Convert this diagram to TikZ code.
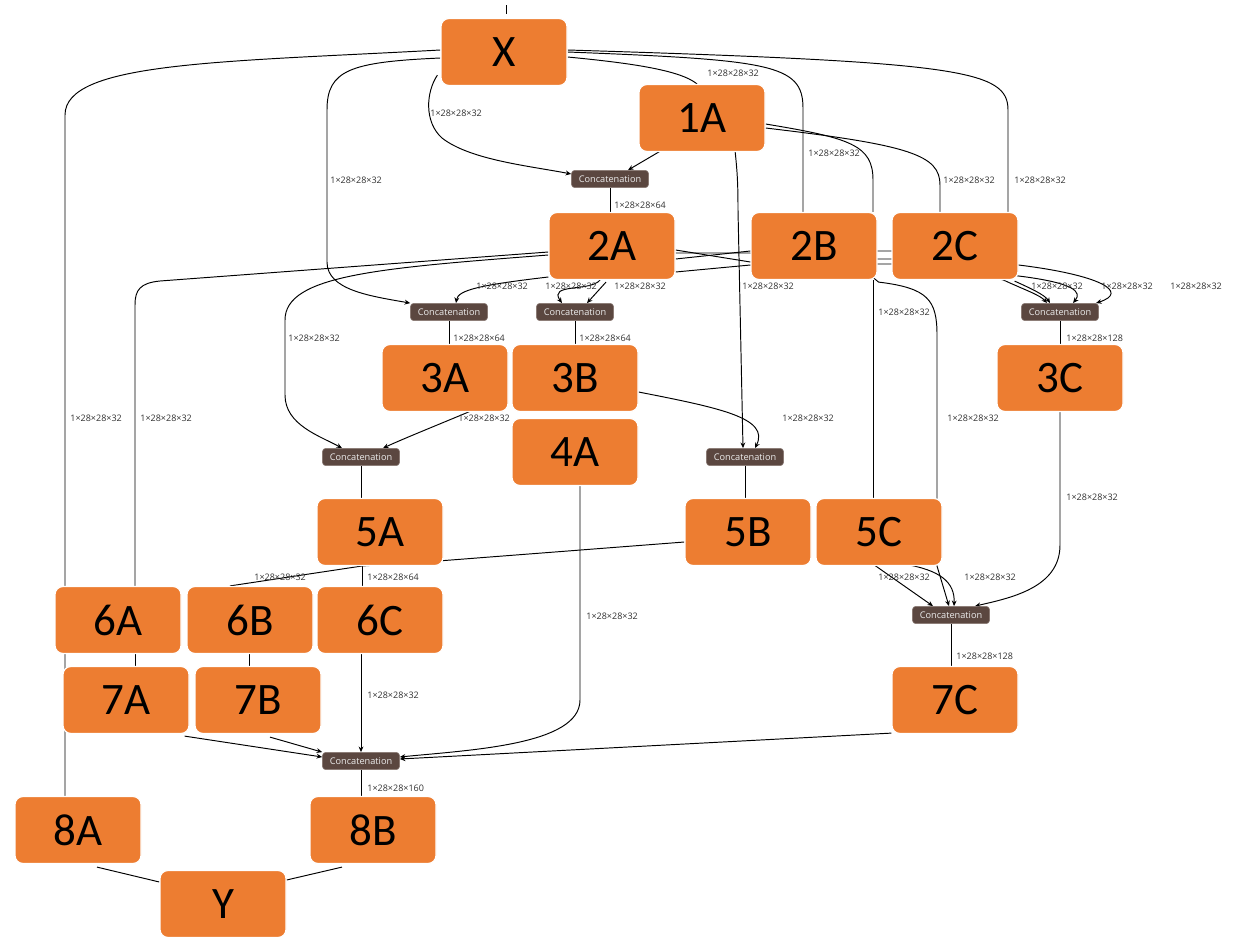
\documentclass[tikz,border=0pt]{standalone}
\usepackage{fontspec}
\usetikzlibrary{calc,arrows.meta}
\newfontfamily\boxfamily{Carlito}
\newfontfamily\uifamily{Open Sans}
\definecolor{boxorange}{HTML}{ED7D31}
\definecolor{catbrown}{HTML}{5B4740}
\definecolor{catedge}{HTML}{8A7A74}
\definecolor{lbltext}{HTML}{333333}
\pgfdeclarelayer{bg}
\pgfdeclarelayer{edges}
\pgfsetlayers{bg,edges,main}

\begin{document}
\begin{tikzpicture}[x=0.5pt,y=-0.5pt,
  opbox/.style={rectangle, rounded corners=4pt, fill=boxorange, draw=white, line width=0.6pt,
    minimum width=63pt, minimum height=33.5pt, inner sep=0pt,
    font=\boxfamily\fontsize{22.5}{27}\selectfont},
  cat/.style={rectangle, rounded corners=1.6pt, fill=catbrown, draw=catedge, line width=0.3pt,
    minimum width=38.5pt, minimum height=8.6pt, inner sep=0pt, text=white!92!black,
    font=\uifamily\fontsize{4.6}{5}\selectfont},
  dimlbl/.style={font=\uifamily\fontsize{4.5}{5}\selectfont, text=lbltext, anchor=west, inner sep=0pt},
  wire/.style={draw=black, line width=0.48pt},
  flow/.style={wire, -{Stealth[length=2.8pt,width=2.4pt]}},
]
\begin{pgfonlayer}{bg}
  \fill[white] (0,0) rectangle (1237,937);
\end{pgfonlayer}
\useasboundingbox (0,0) rectangle (1237,937);

% operator blocks
\node[opbox] (nX)  at (504,52)  {X};
\node[opbox] (n1A) at (702,118) {1A};
\node[opbox] (n2A) at (612,246) {2A};
\node[opbox] (n2B) at (814,246) {2B};
\node[opbox] (n2C) at (955,246) {2C};
\node[opbox] (n3A) at (445,378) {3A};
\node[opbox] (n3B) at (575,378) {3B};
\node[opbox] (n3C) at (1060,378) {3C};
\node[opbox] (n4A) at (575,452) {4A};
\node[opbox] (n5A) at (380,532) {5A};
\node[opbox] (n5B) at (748,532) {5B};
\node[opbox] (n5C) at (879,532) {5C};
\node[opbox] (n6A) at (118,620) {6A};
\node[opbox] (n6B) at (250,620) {6B};
\node[opbox] (n6C) at (380,620) {6C};
\node[opbox] (n7A) at (126,700) {7A};
\node[opbox] (n7B) at (258,700) {7B};
\node[opbox] (n7C) at (955,700) {7C};
\node[opbox] (n8A) at (78,830)  {8A};
\node[opbox] (n8B) at (373,830) {8B};
\node[opbox] (nY)  at (223,904) {Y};

% concatenation ops
\node[cat] (c1) at (610,179)  {Concatenation};
\node[cat] (c2) at (449,312)  {Concatenation};
\node[cat] (c3) at (575,312)  {Concatenation};
\node[cat] (c4) at (1060,312) {Concatenation};
\node[cat] (c5) at (361,457)  {Concatenation};
\node[cat] (c6) at (745,457)  {Concatenation};
\node[cat] (c7) at (951,615)  {Concatenation};
\node[cat] (c8) at (361,761)  {Concatenation};

\coordinate (xin) at (506,5);

\begin{pgfonlayer}{edges}
% graph input
\draw[wire] (xin) -- ($(nX.north)+(2,-4)$);

% outputs of X
\draw[wire] ($(nX.west)+(0,-2)$) .. controls (220,62) and (65,62) .. (65,115) -- ($(n8A.north)+(-13,0)$);
\draw[flow] ($(nX.west)+(0,6)$) .. controls (350,62) and (327,70) .. (327,110) -- (327,262)
  .. controls (327,290) and (370,296) .. (c2.north west);
\draw[flow] ($(nX.south west)+(-3,-11)$) .. controls (426,92) and (424,122) .. (442,138)
  .. controls (470,160) and (530,166) .. ($(c1.west)+(0,-5)$);
\draw[wire] ($(nX.east)+(0,5)$) .. controls (630,63) and (680,70) .. ($(n1A.north)+(-5,0)$);
\draw[wire] ($(nX.east)+(0,0)$) .. controls (770,60) and (803,64) .. (803,108) -- ($(n2B.north)+(-11,0)$);
\draw[wire] ($(nX.east)+(0,-2)$) .. controls (960,62) and (1008,70) .. (1008,110) -- ($(n2C.north)+(53,0)$);

% outputs of 1A
\draw[flow] ($(n1A.south)+(-40,-2)$) -- ($(c1.north)+(18,0)$);
\draw[flow] ($(n1A.south)+(33,-2)$) .. controls (737,170) and (738,180) .. (738,210) -- ($(c6.north)+(-2,0)$);
\draw[wire] ($(n1A.east)+(0,6)$) .. controls (850,138) and (873,145) .. (873,180) -- ($(n2B.north)+(59,0)$);
\draw[wire] ($(n1A.east)+(0,10)$) .. controls (910,145) and (940,155) .. (940,185) -- ($(n2C.north)+(-15,0)$);

\draw[wire] (c1.south) -- (c1.south |- n2A.north);

% outputs of 2A
\draw[wire] ($(n2A.west)+(0,6)$) -- (160,281) .. controls (140,283) and (135,290) .. (135,305) -- ($(n6A.north)+(17,0)$);
\draw[flow] ($(n2A.west)+(0,9)$) .. controls (380,268) and (285,275) .. (285,320) -- (285,395)
  .. controls (285,425) and (320,436) .. ($(c5.north)+(-19,0)$);
\draw[flow] ($(n2A.west)+(0,31)$) .. controls (480,285) and (458,290) .. ($(c2.north)+(7,0)$);
\draw[flow] ($(n2A.south)+(-6,2)$) -- ($(c3.north)+(12,0)$);
\draw[flow] ($(n2A.south)+(-12,0)$) .. controls (590,292) and (548,283) .. ($(c3.north)+(-13,0)$);
\draw[flow] ($(n2A.east)+(0,4)$) -- ($(n2B.west)+(0,16)$) -- (870,264) -- (900,264) -- ($(n2C.east)+(0,30)$)
  .. controls (1075,283) and (1082,292) .. ($(c4.north)+(13,0)$);
\draw[flow] ($(n2A.east)+(0,7)$) -- ($(n2B.west)+(0,7)$) -- (870,259) -- (900,259) -- ($(n2C.east)+(0,19)$)
  .. controls (1100,275) and (1130,292) .. ($(c4.north)+(36,0)$);
\draw[flow] ($(n2A.east)+(0,13)$) -- ($(n2B.west)+(0,5)$) -- (870,251) -- (900,251) -- ($(n2C.south east)+(-15,0)$)
  .. controls (1025,290) and (1040,295) .. ($(c4.north)+(-13,0)$);
\draw[flow] ($(n2A.east)+(0,26)$) -- ($(n2B.west)+(0,19)$) -- (870,275) -- ($(n2B.south east)+(1,2)$)
  .. controls (928,288) and (937,300) .. (937,335) -- (937,566) -- ($(c7.north)+(-2,0)$);

% output of 2C
\draw[flow] ($(n2C.south east)+(-4,1)$) .. controls (1030,288) and (1045,295) .. ($(c4.north)+(-10,0)$);

% output of 2B
\draw[wire] ($(n2B.south)+(59,0)$) -- ($(n5C.north)+(-6,0)$);

% concatenations into third row
\draw[wire] (c2.south) -- (c2.south |- n3A.north);
\draw[wire] (c3.south) -- (c3.south |- n3B.north);
\draw[wire] (c4.south) -- (c4.south |- n3C.north);

\draw[flow] ($(n3A.south)+(28,-2)$) .. controls (440,424) and (405,438) .. ($(c5.north)+(22,0)$);
\draw[flow] ($(n3B.east)+(0,14)$) .. controls (720,408) and (770,418) .. ($(c6.north)+(10,0)$);
\draw[flow] (n3C.south) -- (1060,545) .. controls (1060,588) and (1010,598) .. ($(c7.north)+(24,0)$);

\draw[wire] (c5.south) -- (c5.south |- n5A.north);
\draw[wire] (c6.south) -- (c6.south |- n5B.north);

% output of 4A
\draw[flow] ($(n4A.south)+(5,0)$) -- (580,700) .. controls (580,745) and (470,750) .. ($(c8.east)+(0,-4)$);

% fifth row outputs
\draw[wire] ($(n5A.south)+(-18,0)$) -- ($(n6C.north)+(-18,0)$);
\draw[wire] ($(n5B.west)+(0,10)$) -- (438,561) -- (362,566) -- ($(n6B.north)+(-20,0)$);
\draw[flow] ($(n5C.south)+(-6,-2)$) -- ($(c7.north)+(-18,0)$);
\draw[flow] ($(n5C.south)+(25,-2)$) .. controls (940,570) and (955,582) .. ($(c7.north)+(3,0)$);

\draw[wire] (c7.south) -- (c7.south |- n7C.north);

% sixth and seventh rows
\draw[wire] ($(n6A.south)+(17,0)$) -- ($(n7A.north)+(9,0)$);
\draw[wire] ($(n6B.south)+(-1,0)$) -- ($(n7B.north)+(-9,0)$);
\draw[flow] (c8.north |- n6C.south) -- (c8.north);
\draw[flow] ($(n7A.south east)+(-5,2)$) -- ($(c8.west)+(0,-4)$);
\draw[flow] ($(n7B.south)+(12,3)$) -- (c8.north west);
\draw[flow] ($(n7C.south west)+(0,-1)$) -- ($(c8.east)+(0,-2)$);

\draw[wire] (c8.south) -- (c8.south |- n8B.north);

% final merge
\draw[wire] ($(n8A.south)+(19,3)$) -- ($(nY.west)+(0,-22)$);
\draw[wire] ($(n8B.south)+(-31,3)$) -- ($(nY.east)+(0,-24)$);

% tensor shape labels
\node[dimlbl] (l01) at (430,113) {1×28×28×32};
\node[dimlbl] (l02) at (330,180) {1×28×28×32};
\node[dimlbl] (l03) at (70,418)  {1×28×28×32};
\node[dimlbl] (l04) at (707,73)  {1×28×28×32};
\node[dimlbl] (l05) at (808,153) {1×28×28×32};
\node[dimlbl] (l06) at (943,180) {1×28×28×32};
\node[dimlbl] (l07) at (1014,180) {1×28×28×32};
\node[dimlbl] (l08) at (614,205) {1×28×28×64};
\node[dimlbl] (l09) at (476,286) {1×28×28×32};
\node[dimlbl] (l10) at (545,286) {1×28×28×32};
\node[dimlbl] (l11) at (614,286) {1×28×28×32};
\node[dimlbl] (l12) at (742,286) {1×28×28×32};
\node[dimlbl] (l13) at (1031,286) {1×28×28×32};
\node[dimlbl] (l14) at (1101,286) {1×28×28×32};
\node[dimlbl] (l15) at (1170,286) {1×28×28×32};
\node[dimlbl] (l16) at (878,312) {1×28×28×32};
\node[dimlbl] (l17) at (288,338) {1×28×28×32};
\node[dimlbl] (l18) at (453,338) {1×28×28×64};
\node[dimlbl] (l19) at (579,338) {1×28×28×64};
\node[dimlbl] (l20) at (1066,338) {1×28×28×128};
\node[dimlbl] (l21) at (458,418) {1×28×28×32};
\node[dimlbl] (l22) at (782,418) {1×28×28×32};
\node[dimlbl] (l23) at (947,418) {1×28×28×32};
\node[dimlbl] (l24) at (140,418) {1×28×28×32};
\node[dimlbl] (l25) at (1066,497) {1×28×28×32};
\node[dimlbl] (l26) at (254,577) {1×28×28×32};
\node[dimlbl] (l27) at (367,577) {1×28×28×64};
\node[dimlbl] (l28) at (878,577) {1×28×28×32};
\node[dimlbl] (l29) at (964,577) {1×28×28×32};
\node[dimlbl] (l30) at (586,616) {1×28×28×32};
\node[dimlbl] (l31) at (956,656) {1×28×28×128};
\node[dimlbl] (l32) at (367,695) {1×28×28×32};
\node[dimlbl] (l33) at (367,788) {1×28×28×160};
\end{pgfonlayer}
\end{tikzpicture}
\end{document}
